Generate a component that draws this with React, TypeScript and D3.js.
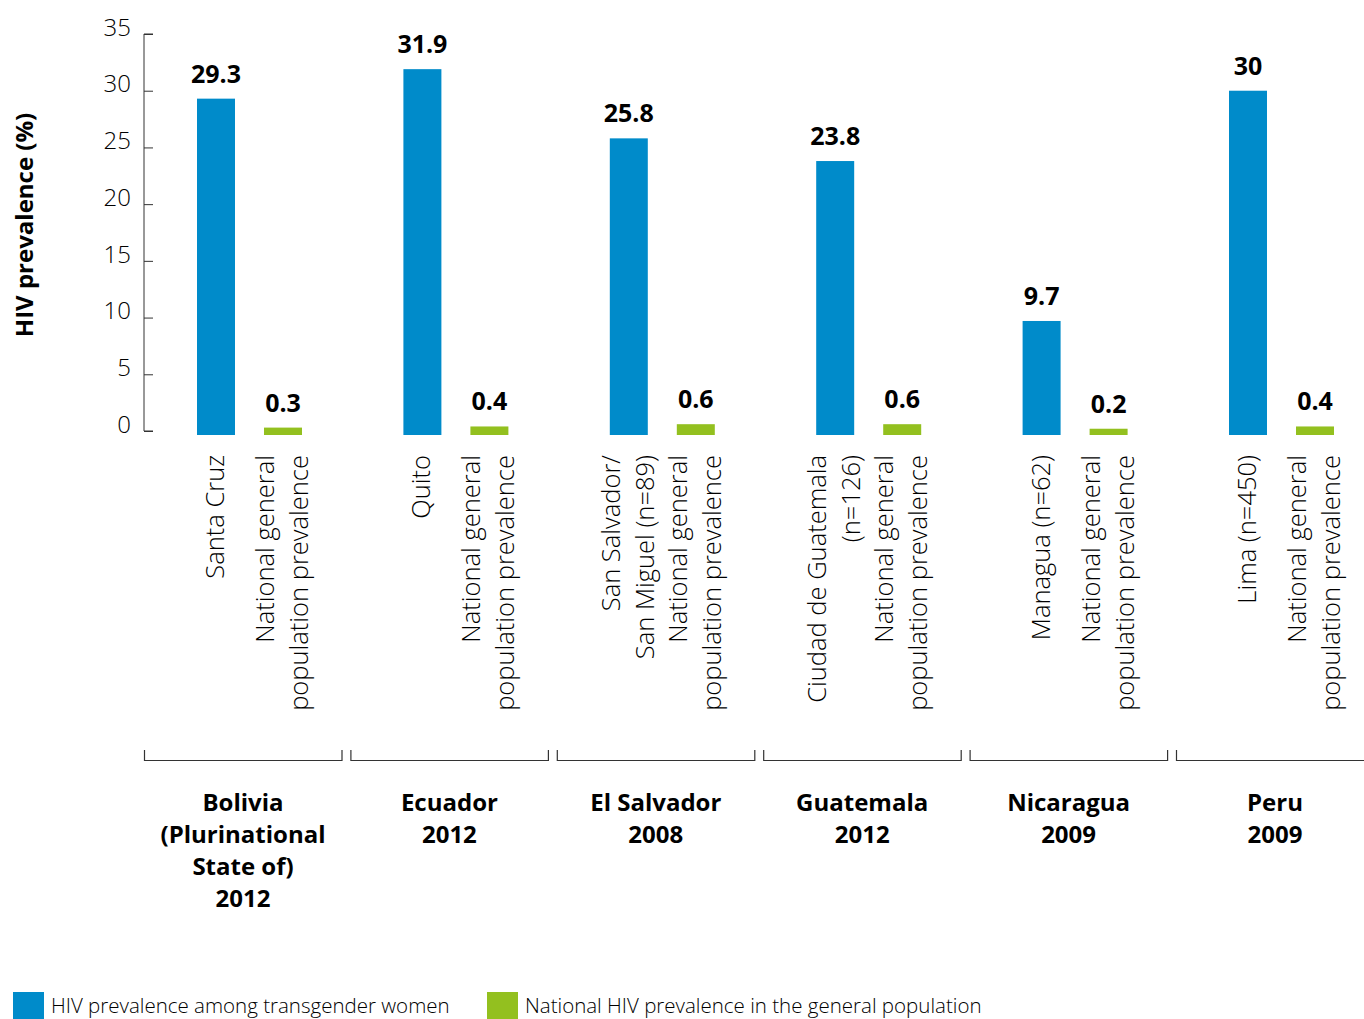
import { useEffect, useRef } from 'react';
import * as d3 from 'd3';

const countries = ['Bolivia', 'Ecuador', 'El Salvador', 'Guatemala', 'Nicaragua', 'Peru'];
const countryLabels = [
  ['Bolivia', '(Plurinational', 'State of)', '2012'],
  ['Ecuador', '2012'],
  ['El Salvador', '2008'],
  ['Guatemala', '2012'],
  ['Nicaragua', '2009'],
  ['Peru', '2009'],
];
const cityLabels = [
  ['Santa Cruz'],
  ['Quito'],
  ['San Salvador/', 'San Miguel (n=89)'],
  ['Ciudad de Guatemala', '(n=126)'],
  ['Managua (n=62)'],
  ['Lima (n=450)'],
];
const nationalLabel = ['National general', 'population prevalence'];
const transValues = [29.3, 31.9, 25.8, 23.8, 9.7, 30];
const nationalValues = [0.3, 0.4, 0.6, 0.6, 0.2, 0.4];
const yTicks = [0, 5, 10, 15, 20, 25, 30, 35];
const seriesKeys = ['trans', 'national'];
const legendLabels = ['HIV prevalence among transgender women', 'National HIV prevalence in the general population'];

const colours = { trans: '#008bca', national: '#93c01f', axis: '#333333', text: '#000000' };
const font = '"Open Sans", "Noto Sans", sans-serif';

const App = () => {
  const svgRef = useRef(null);

  useEffect(() => {
    const svg = d3.select(svgRef.current);
    svg.selectAll('*').remove();

    const yScale = d3.scaleLinear().domain([0, 35]).range([431, 34]);
    const xScale = d3.scaleBand().domain(countries).range([144, 144 + 206.4 * 6]).padding(0);
    const innerScale = d3.scaleBand().domain(seriesKeys).range([53, 158]).paddingInner(0.433).paddingOuter(0);
    const baseline = yScale(0) + 4;

    // y axis
    const yAxis = d3.axisLeft(yScale).tickValues(yTicks).tickSize(-9).tickPadding(13);
    const yAxisG = svg.append('g').attr('transform', `translate(144,0)`).call(yAxis);
    yAxisG.select('.domain').attr('stroke', colours.axis).attr('d', `M9,${yScale(35)}H0V${yScale(0)}H9`);
    yAxisG.selectAll('.tick line').attr('stroke', colours.axis);
    yAxisG
      .selectAll('.tick text')
      .style('font-family', font)
      .style('font-size', '24px')
      .style('font-weight', 300)
      .attr('fill', colours.text)
      .attr('dy', '0.05em');

    svg
      .append('text')
      .attr('transform', `translate(33,${225}) rotate(-90)`)
      .attr('text-anchor', 'middle')
      .style('font-family', font)
      .style('font-size', '24px')
      .style('font-weight', 700)
      .text('HIV prevalence (%)');

    countries.forEach((country, i) => {
      const g = svg.append('g').attr('transform', `translate(${xScale(country)},0)`);
      const vals = [transValues[i], nationalValues[i]];

      seriesKeys.forEach((key, k) => {
        const x0 = innerScale(key);
        const bw = innerScale.bandwidth();
        g.append('rect')
          .attr('x', x0)
          .attr('y', yScale(vals[k]))
          .attr('width', bw)
          .attr('height', baseline - yScale(vals[k]))
          .attr('fill', colours[key]);

        g.append('text')
          .attr('x', x0 + bw / 2)
          .attr('y', yScale(vals[k]) - 16)
          .attr('text-anchor', 'middle')
          .style('font-family', font)
          .style('font-size', '25px')
          .style('font-weight', 700)
          .text(vals[k]);

        // rotated category label
        const lines = k === 0 ? cityLabels[i] : nationalLabel;
        const cx = x0 + bw / 2;
        const lineGap = 34;
        const firstOffset = -((lines.length - 1) * lineGap) / 2 + 8;
        const t = g
          .append('text')
          .attr('transform', `translate(${cx},455) rotate(-90)`)
          .attr('text-anchor', 'end')
          .style('font-family', font)
          .style('font-size', '25.5px')
          .style('font-weight', 300);
        lines.forEach((line, li) => {
          t.append('tspan')
            .attr('x', 0)
            .attr('y', firstOffset + li * lineGap)
            .text(line);
        });
      });

      // bracket
      g.append('path')
        .attr('d', `M0.5,750V760.5H198V750`)
        .attr('fill', 'none')
        .attr('stroke', colours.axis)
        .attr('stroke-width', 1.2);

      const ct = g
        .append('text')
        .attr('text-anchor', 'middle')
        .style('font-family', font)
        .style('font-size', '24px')
        .style('font-weight', 700);
      countryLabels[i].forEach((line, li) => {
        ct.append('tspan')
          .attr('x', 99)
          .attr('y', 811 + li * 32)
          .text(line);
      });
    });

    // legend
    const legendX = [13, 487];
    seriesKeys.forEach((key, k) => {
      svg.append('rect')
        .attr('x', legendX[k])
        .attr('y', 992)
        .attr('width', 31)
        .attr('height', 30)
        .attr('fill', colours[key]);
      svg.append('text')
        .attr('x', legendX[k] + 38)
        .attr('y', 1013)
        .style('font-family', font)
        .style('font-size', '20.5px')
        .style('font-weight', 300)
        .text(legendLabels[k]);
    });
  }, []);

  return (
    <svg
      ref={svgRef}
      width={1364}
      height={1019}
      viewBox="0 0 1364 1019"
      style={{ position: 'absolute', left: 0, top: 0, background: '#fff' }}
    />
  );
};

export default App;
